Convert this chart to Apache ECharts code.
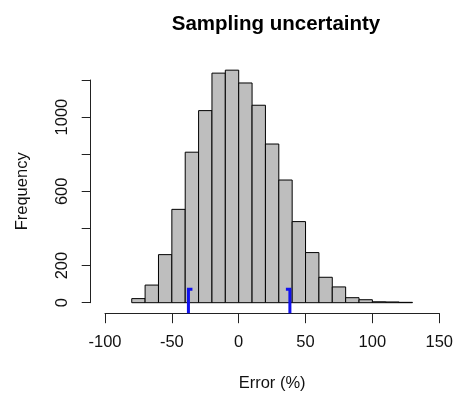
<!DOCTYPE html>
<html>
<head>
<meta charset="utf-8">
<script src="https://cdn.jsdelivr.net/npm/echarts@6/dist/echarts.min.js"></script>
<style>
  html, body { margin: 0; padding: 0; background: #fff; }
  #chart { width: 456px; height: 398px; }
</style>
</head>
<body>
<div id="chart"></div>
<script>
// histogram bins (width 10) and counts
const binStarts = [-80, -70, -60, -50, -40, -30, -20, -10, 0, 10, 20, 30, 40, 50, 60, 70, 80, 90, 100, 110, 120];
const binWidth = 10;
const counts = [22, 95, 259, 503, 811, 1035, 1237, 1253, 1184, 1064, 855, 661, 437, 270, 137, 85, 27, 16, 5, 4, 2];

// blue interval markers: [position, height, hook direction]
const markerPos = [-37.6, 38.3];
const markerHeight = [72, 72];
const markerDir = [1, -1];

// y labels R actually printed
const yLabelsShown = [0, 200, 600, 1000];

const FONT = 'Liberation Sans, Arial, sans-serif';

const chart = echarts.init(document.getElementById('chart'));

chart.setOption({
  backgroundColor: '#fff',
  animation: false,
  title: {
    text: 'Sampling uncertainty',
    left: 271, top: 9, textAlign: 'center',
    textStyle: { fontFamily: FONT, fontSize: 20.5, fontWeight: 'bold', color: '#000' },
  },
  grid: { left: 105, right: 14.3, top: 80, bottom: 95.3 },
  xAxis: {
    type: 'value', min: -100, max: 150, interval: 50,
    offset: 10.5,
    axisLine: { show: true, onZero: false, lineStyle: { color: '#222', width: 1 } },
    axisTick: { show: true, length: 10, lineStyle: { color: '#222' } },
    axisLabel: { fontFamily: FONT, fontSize: 16.5, color: '#111', margin: 21 },
    splitLine: { show: false },
    name: 'Error (%)', nameLocation: 'middle', nameGap: 62,
    nameTextStyle: { fontFamily: FONT, fontSize: 16.5, color: '#111' },
  },
  yAxis: {
    type: 'value', min: 0, max: 1200, interval: 200,
    offset: 14.3,
    axisLine: { show: true, onZero: false, lineStyle: { color: '#222', width: 1 } },
    axisTick: { show: true, length: 9, lineStyle: { color: '#222' } },
    axisLabel: {
      fontFamily: FONT, fontSize: 16.5, color: '#111', rotate: 90, margin: 20,
      formatter: v => (yLabelsShown.includes(v) ? String(v) : ''),
    },
    splitLine: { show: false },
    name: 'Frequency', nameLocation: 'middle', nameRotate: 90, nameGap: 60,
    nameTextStyle: { fontFamily: FONT, fontSize: 16.5, color: '#111' },
  },
  series: [
    {
      type: 'custom',
      data: binStarts.map((s, i) => [s, s + binWidth, counts[i]]),
      renderItem: (params, api) => {
        const p0 = api.coord([api.value(0), api.value(2)]);
        const p1 = api.coord([api.value(1), 0]);
        return {
          type: 'rect',
          shape: { x: p0[0], y: p0[1], width: p1[0] - p0[0], height: p1[1] - p0[1] },
          style: { fill: '#bebebe', stroke: '#000', lineWidth: 1 },
        };
      },
    },
    {
      type: 'custom',
      clip: false,
      data: markerPos.map((x, i) => [x, markerHeight[i], markerDir[i]]),
      renderItem: (params, api) => {
        const top = api.coord([api.value(0), api.value(1)]);
        const base = api.coord([api.value(0), 0]);
        const dir = api.value(2);
        return {
          type: 'polyline',
          shape: { points: [[top[0], base[1] + 10.5], [top[0], top[1]], [top[0] + dir * 4, top[1]]] },
          style: { stroke: '#1010ee', lineWidth: 3, fill: null },
        };
      },
    },
  ],
});
</script>
</body>
</html>
